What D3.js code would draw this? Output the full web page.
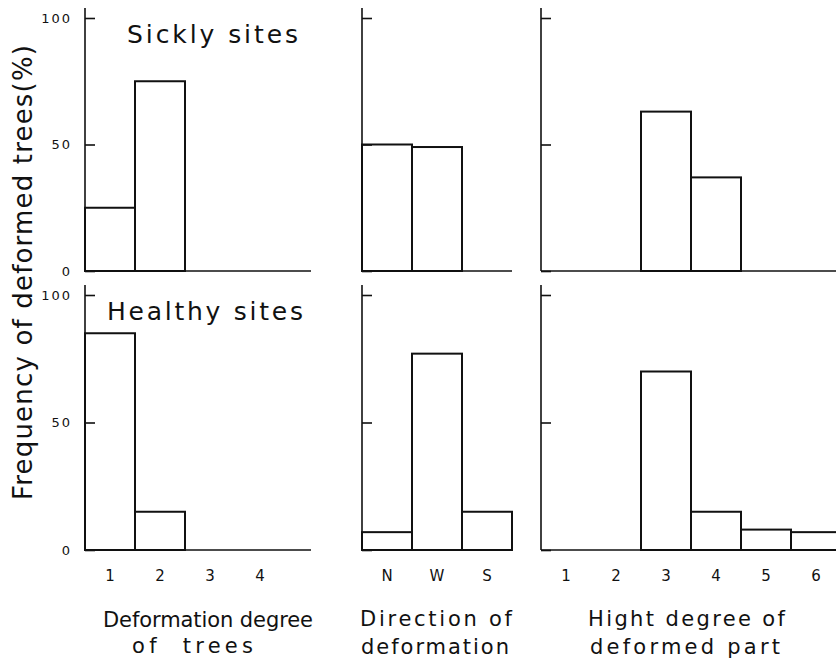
<!DOCTYPE html>
<html>
<head>
<meta charset="utf-8">
<script src="https://cdn.jsdelivr.net/npm/d3@7"></script>
<style>
  html, body { margin: 0; padding: 0; background: #fff; }
  svg { display: block; }
  text { font-family: "DejaVu Sans", sans-serif; fill: #111; }
</style>
</head>
<body>
<svg id="chart" width="836" height="659"></svg>
<script>
// ---- data ----
const degreeCats = ["1", "2", "3", "4"];
const sicklyDegree = [25, 75, 0, 0];
const healthyDegree = [85, 15, 0, 0];

const dirCats = ["N", "W", "S"];
const sicklyDir = [50, 49, 0];
const healthyDir = [7, 77, 15];

const heightCats = ["1", "2", "3", "4", "5", "6"];
const sicklyHeight = [0, 0, 63, 37, 0, 0];
const healthyHeight = [0, 0, 70, 15, 8, 7];

const yTicks = [0, 50, 100];
const rowTitles = ["Sickly sites", "Healthy sites"];
const xTitles = [
  ["Deformation degree", "of  trees"],
  ["Direction of", "deformation"],
  ["Hight degree of", "deformed part"]
];
const yTitle = "Frequency of deformed trees(%)";

// ---- layout ----
const svg = d3.select("#chart");
const ink = "#111";

const rows = [
  { y0: 271, y100: 18, axisTop: 8, data: [sicklyDegree, sicklyDir, sicklyHeight] },
  { y0: 550, y100: 295, axisTop: 285, data: [healthyDegree, healthyDir, healthyHeight] }
];
const panels = [
  { cats: degreeCats, x0: 85, end: 311, labels: true },
  { cats: dirCats, x0: 362, end: 512, labels: false },
  { cats: heightCats, x0: 541, end: 836, labels: false }
];
const binW = 50;

rows.forEach((row, ri) => {
  const y = d3.scaleLinear().domain([0, 100]).range([row.y0, row.y100]);
  panels.forEach((p, pi) => {
    const x = d3.scaleBand().domain(p.cats)
      .range([p.x0, p.x0 + binW * p.cats.length]).padding(0);
    const g = svg.append("g");
    const vals = row.data[pi];

    // bars
    g.selectAll("rect.bar")
      .data(p.cats.map((c, i) => ({ c, v: vals[i] })).filter(d => d.v > 0))
      .join("rect")
      .attr("class", "bar")
      .attr("x", d => x(d.c))
      .attr("width", x.bandwidth())
      .attr("y", d => y(d.v))
      .attr("height", d => y(0) - y(d.v))
      .attr("fill", "none")
      .attr("stroke", ink)
      .attr("stroke-width", 2);

    // baseline
    g.append("line")
      .attr("x1", p.x0).attr("x2", p.end)
      .attr("y1", y(0)).attr("y2", y(0))
      .attr("stroke", ink).attr("stroke-width", 1.6);

    // vertical axis line
    g.append("line")
      .attr("x1", p.x0).attr("x2", p.x0)
      .attr("y1", row.axisTop).attr("y2", y(0))
      .attr("stroke", ink).attr("stroke-width", 1.6);

    // y ticks (inside), labels only on left panels
    const yAxis = d3.axisLeft(y).tickValues(yTicks)
      .tickSize(-10).tickSizeOuter(0).tickPadding(13)
      .tickFormat(p.labels ? d3.format("d") : () => "");
    const ya = g.append("g").attr("transform", `translate(${p.x0},0)`).call(yAxis);
    ya.select(".domain").remove();
    ya.attr("font-size", null);
    ya.selectAll(".tick line").attr("stroke", ink).attr("stroke-width", 1.6);
    ya.selectAll(".tick text")
      .style("font-size", "13px").attr("letter-spacing", 2)
      .attr("fill", ink).style("font-family", "DejaVu Sans, sans-serif");

    // x tick labels in bottom row
    if (ri === 1) {
      const xAxis = d3.axisBottom(x).tickSize(0).tickPadding(20);
      const xa = g.append("g").attr("transform", `translate(0,${y(0)})`).call(xAxis);
      xa.select(".domain").remove();
      xa.attr("font-size", null);
      xa.selectAll(".tick text")
        .style("font-size", "15px").attr("fill", ink)
        .style("font-family", "DejaVu Sans, sans-serif");
    }
  });
});

// row headings
const headPos = [{ x: 127, y: 43, w: 171 }, { x: 107, y: 320, w: 196 }];
rowTitles.forEach((t, i) => {
  svg.append("text")
    .attr("x", headPos[i].x).attr("y", headPos[i].y)
    .attr("font-size", 25)
    .attr("textLength", headPos[i].w).attr("lengthAdjust", "spacing")
    .text(t);
});

// x titles
const xTitlePos = [
  [{ x: 103, y: 627, w: 210 }, { x: 132, y: 653, w: 121 }],
  [{ x: 360, y: 626, w: 152 }, { x: 361, y: 654, w: 148 }],
  [{ x: 588, y: 626, w: 197 }, { x: 590, y: 654, w: 190 }]
];
xTitles.forEach((lines, i) => {
  lines.forEach((t, j) => {
    svg.append("text")
      .attr("x", xTitlePos[i][j].x).attr("y", xTitlePos[i][j].y)
      .attr("font-size", 21)
      .attr("textLength", xTitlePos[i][j].w).attr("lengthAdjust", "spacing")
      .style("white-space", "pre")
      .text(t);
  });
});

// y title
svg.append("text")
  .attr("transform", "translate(32,272.5) rotate(-90)")
  .attr("text-anchor", "middle")
  .attr("font-size", 26)
  .attr("textLength", 455).attr("lengthAdjust", "spacing")
  .text(yTitle);
</script>
</body>
</html>
